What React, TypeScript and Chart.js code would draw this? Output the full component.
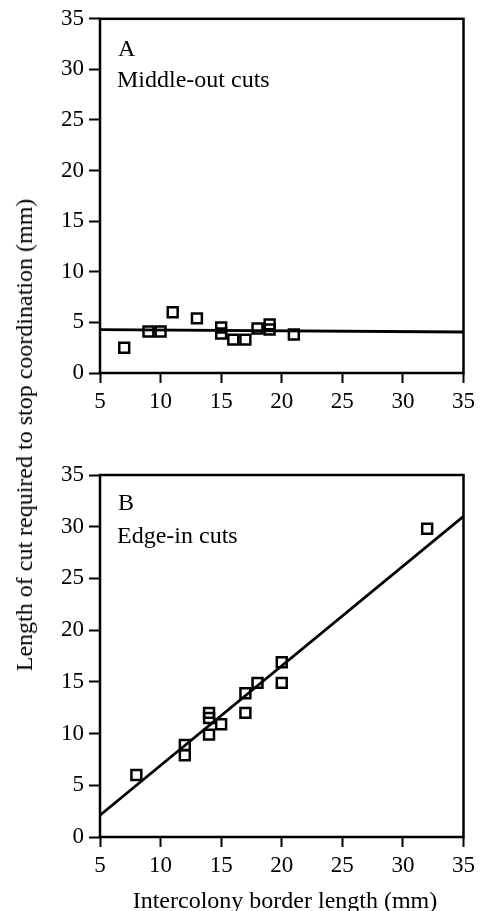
import React, { useEffect, useRef } from 'react';
import { Chart, registerables } from 'chart.js';

Chart.register(...registerables);

// ---- data ----
const xTickValues = [5, 10, 15, 20, 25, 30, 35];
const yTickValues = [0, 5, 10, 15, 20, 25, 30, 35];

const middleOutX = [7, 9, 10, 11, 13, 15, 15, 16, 17, 18, 19, 19, 21];
const middleOutY = [2.5, 4.1, 4.1, 6.0, 5.4, 4.5, 3.9, 3.3, 3.3, 4.4, 4.8, 4.3, 3.8];
const middleOutFitX = [5, 35];
const middleOutFitY = [4.28, 4.05];

const edgeInX = [8, 12, 12, 14, 14, 14, 15, 17, 17, 18, 20, 20, 32];
const edgeInY = [6.0, 8.9, 7.9, 12.0, 11.5, 9.9, 10.9, 13.9, 12.0, 14.9, 16.9, 14.9, 29.8];
const edgeInFitX = [5, 35];
const edgeInFitY = [2.1, 31.0];

const panelLetters = ['A', 'B'];
const panelNames = ['Middle-out cuts', 'Edge-in cuts'];
const xTitle = 'Intercolony border length (mm)';
const yTitle = 'Length of cut required to stop coordination (mm)';

const SERIF = '"Liberation Serif", "Times New Roman", serif';

type PanelSpec = {
  xs: number[];
  ys: number[];
  fitX: number[];
  fitY: number[];
  letter: string;
  name: string;
  canvasH: number;
  padTop: number;
  xAxisH: number;
  letterDy: number;
  nameDy: number;
};

function buildChart(canvas: HTMLCanvasElement, p: PanelSpec) {
  const boxPlugin = {
    id: 'boxAndLabels',
    afterDatasetsDraw(chart: any) {
      const { ctx, chartArea } = chart;
      ctx.save();
      ctx.strokeStyle = '#000';
      ctx.lineWidth = 2.5;
      ctx.strokeRect(chartArea.left, chartArea.top, chartArea.right - chartArea.left, chartArea.bottom - chartArea.top);
      ctx.fillStyle = '#000';
      ctx.font = `24px ${SERIF}`;
      ctx.textBaseline = 'alphabetic';
      ctx.textAlign = 'left';
      ctx.fillText(p.letter, chartArea.left + 18, chartArea.top + p.letterDy);
      ctx.fillText(p.name, chartArea.left + 17, chartArea.top + p.nameDy);
      ctx.restore();
    },
  };

  const tickFont = { family: SERIF, size: 23 };

  return new Chart(canvas, {
    type: 'scatter',
    data: {
      datasets: [
        {
          type: 'line',
          data: p.fitX.map((x, i) => ({ x, y: p.fitY[i] })),
          borderColor: '#000',
          borderWidth: 2.8,
          pointRadius: 0,
          fill: false,
          tension: 0,
        } as any,
        {
          data: p.xs.map((x, i) => ({ x, y: p.ys[i] })),
          pointStyle: 'rect',
          pointRadius: 7,
          pointBorderWidth: 2.5,
          pointBorderColor: '#000',
          pointBackgroundColor: 'rgba(255,255,255,0)',
          borderColor: '#000',
          backgroundColor: 'rgba(255,255,255,0)',
        },
      ],
    },
    options: {
      animation: false,
      responsive: false,
      devicePixelRatio: 1,
      layout: { padding: { left: 0, right: 14, top: p.padTop, bottom: 0 } },
      plugins: {
        legend: { display: false },
        tooltip: { enabled: false },
      },
      scales: {
        x: {
          type: 'linear',
          min: 5,
          max: 35,
          afterBuildTicks: (s: any) => {
            s.ticks = xTickValues.map((v) => ({ value: v }));
          },
          ticks: { font: tickFont, color: '#000', padding: 5, maxRotation: 0, autoSkip: false },
          grid: {
            display: true,
            drawOnChartArea: false,
            drawTicks: true,
            tickLength: 10,
            tickWidth: 2,
            tickColor: '#000',
          },
          border: { display: false },
          afterFit: (s: any) => {
            s.height = p.xAxisH;
          },
        },
        y: {
          type: 'linear',
          min: 0,
          max: 35,
          afterBuildTicks: (s: any) => {
            s.ticks = yTickValues.map((v) => ({ value: v }));
          },
          ticks: { font: tickFont, color: '#000', padding: 5, autoSkip: false },
          grid: {
            display: true,
            drawOnChartArea: false,
            drawTicks: true,
            tickLength: 11,
            tickWidth: 2,
            tickColor: '#000',
          },
          border: { display: false },
          afterFit: (s: any) => {
            s.width = 100;
          },
        },
      },
    },
    plugins: [boxPlugin],
  } as any);
}

function Panel({ spec, top }: { spec: PanelSpec; top: number }) {
  const ref = useRef<HTMLCanvasElement | null>(null);
  useEffect(() => {
    if (!ref.current) return;
    const chart = buildChart(ref.current, spec);
    return () => chart.destroy();
  }, []);
  return (
    <canvas
      ref={ref}
      width={480}
      height={spec.canvasH}
      style={{ position: 'absolute', left: 0, top, width: 480, height: spec.canvasH, display: 'block' }}
    />
  );
}

const topSpec: PanelSpec = {
  xs: middleOutX,
  ys: middleOutY,
  fitX: middleOutFitX,
  fitY: middleOutFitY,
  letter: panelLetters[0],
  name: panelNames[0],
  canvasH: 430,
  padTop: 15,
  xAxisH: 57,
  letterDy: 37,
  nameDy: 68,
};

const bottomSpec: PanelSpec = {
  xs: edgeInX,
  ys: edgeInY,
  fitX: edgeInFitX,
  fitY: edgeInFitY,
  letter: panelLetters[1],
  name: panelNames[1],
  canvasH: 481,
  padTop: 45,
  xAxisH: 74,
  letterDy: 35,
  nameDy: 68,
};

export default function App() {
  return (
    <div style={{ position: 'absolute', left: 0, top: 0, width: 480, height: 911, overflow: 'hidden', background: '#fff' }}>
      <Panel spec={topSpec} top={0} />
      <Panel spec={bottomSpec} top={430} />
      <div
        style={{
          position: 'absolute',
          left: 24,
          top: 435,
          transform: 'translate(-50%, -50%) rotate(-90deg)',
          whiteSpace: 'nowrap',
          fontFamily: SERIF,
          fontSize: 24,
          lineHeight: '24px',
          color: '#000',
        }}
      >
        {yTitle}
      </div>
      <div
        style={{
          position: 'absolute',
          left: 285,
          top: 888,
          transform: 'translateX(-50%)',
          whiteSpace: 'nowrap',
          fontFamily: SERIF,
          fontSize: 24,
          lineHeight: '24px',
          color: '#000',
        }}
      >
        {xTitle}
      </div>
    </div>
  );
}
